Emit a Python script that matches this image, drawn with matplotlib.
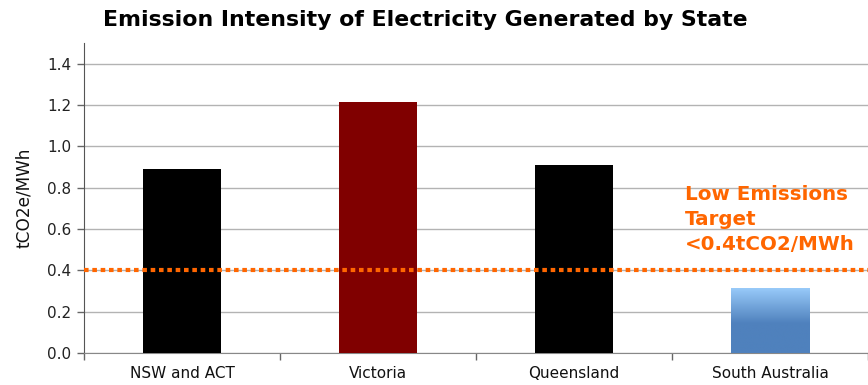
import numpy as np
import matplotlib
matplotlib.use("Agg")
import matplotlib.pyplot as plt
from matplotlib.colors import LinearSegmentedColormap

states = ["NSW and ACT", "Victoria", "Queensland", "South Australia"]
intensity = [0.89, 1.215, 0.91, 0.315]
bar_colors = ["#000000", "#800000", "#000000", None]
target = 0.4
target_lines = ["Low Emissions", "Target", "<0.4tCO2/MWh"]
y_ticks = [0.0, 0.2, 0.4, 0.6, 0.8, 1.0, 1.2, 1.4]

plt.rcParams["font.family"] = ["DejaVu Sans"]

fig = plt.figure(figsize=(8.68, 3.85), dpi=100)
ax = fig.add_axes([84 / 868, 1 - 353 / 385, 1 - 84 / 868, (353 - 43) / 385])

x = np.arange(len(states))
bars = ax.bar(x, intensity, width=0.4, zorder=3,
              color=[c if c else "#4F81BD" for c in bar_colors], linewidth=0)

# gradient fill for the bar without a solid colour
grad = LinearSegmentedColormap.from_list(
    "sa", [(0.0, "#4F81BD"), (0.45, "#4F81BD"), (1.0, "#9ACCFB")])
for b, c in zip(bars, bar_colors):
    if c is None:
        x0, y0 = b.get_x(), b.get_y()
        w, h = b.get_width(), b.get_height()
        b.set_facecolor("none")
        img = ax.imshow(np.linspace(0, 1, 256).reshape(-1, 1), cmap=grad,
                        origin="lower", aspect="auto",
                        extent=[x0, x0 + w, y0, y0 + h], zorder=3)
        img.set_clip_path(b)

ax.set_xlim(-0.5, len(states) - 0.5)
ax.set_ylim(0, 1.5)
ax.set_yticks(y_ticks)
ax.set_yticklabels([f"{v:.1f}" for v in y_ticks], fontsize=11, color="#222222")
ax.yaxis.grid(True, color="#b3b3b3", linewidth=1.0, zorder=0)
ax.set_axisbelow(True)

ax.set_xticks(x)
ax.set_xticklabels(states, fontsize=11, color="#111111")
ax.set_xticks(np.arange(len(states) + 1) - 0.5, minor=True)
ax.tick_params(axis="x", which="major", length=0, pad=9)
ax.tick_params(axis="x", which="minor", length=5, color="#666666", width=1)
ax.tick_params(axis="y", length=5, color="#666666", width=1, pad=4)

for s in ["top", "right"]:
    ax.spines[s].set_visible(False)
ax.spines["left"].set_color("#555555")
ax.spines["bottom"].set_color("#888888")

ax.set_ylabel("tCO2e/MWh", fontsize=12.2, color="#111111", labelpad=10)

ax.axhline(target, color="#FF6600", linewidth=3, linestyle=(0, (1.1, 0.9)),
           zorder=4, clip_on=False)
for i, line in enumerate(target_lines):
    ax.text(2.564, 0.741 - i * 0.121, line, color="#FF6600", fontsize=14.3,
            fontweight="bold", va="baseline", ha="left", zorder=5)

fig.suptitle("Emission Intensity of Electricity Generated by State",
             fontsize=15.8, fontweight="bold", x=0.49, y=0.975, va="top")

fig.savefig("out.png", dpi=100)
